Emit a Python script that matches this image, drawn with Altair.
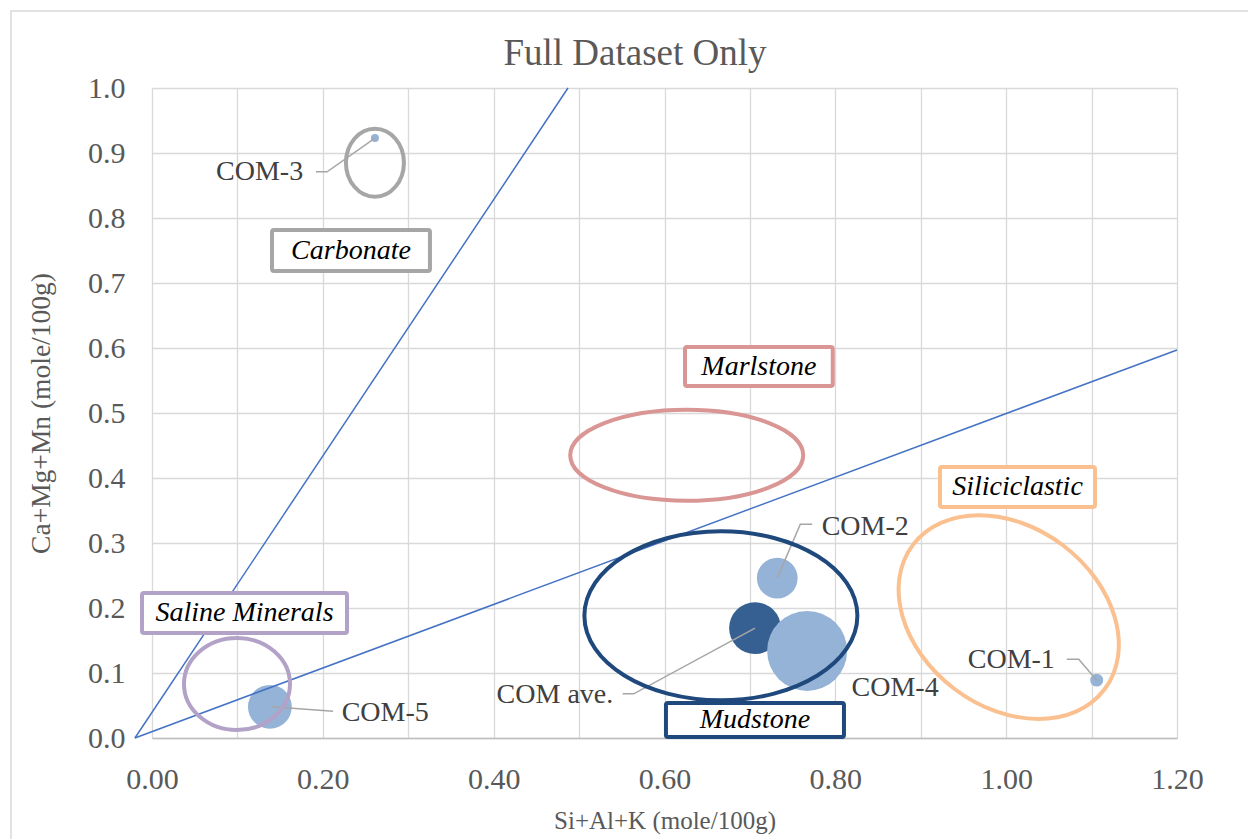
import altair as alt
import pandas as pd

# ---- bubble series (mole/100g) ----
sample = ["COM ave.", "COM-1", "COM-2", "COM-3", "COM-4", "COM-5"]
si_al_k = [0.706, 1.106, 0.732, 0.261, 0.767, 0.138]
ca_mg_mn = [0.169, 0.089, 0.246, 0.923, 0.134, 0.048]
bubble_value = [42, 2.6, 26, 1, 100, 30]
series = ["Average", "Sample", "Sample", "Sample", "Sample", "Sample"]

# ---- data labels ----
label_x = [0.540, 0.955, 0.784, 0.177, 0.819, 0.222]
label_y = [0.066, 0.120, 0.325, 0.871, 0.077, 0.038]
label_side = ["right", "left", "left", "right", "left", "left"]

# ---- leader lines (label -> bubble) ----
leader_name = ["COM ave."] * 3 + ["COM-1"] * 3 + ["COM-2"] * 3 + ["COM-3"] * 3 + ["COM-5"] * 2
leader_x = [0.551, 0.564, 0.706, 1.071, 1.085, 1.106, 0.773, 0.759, 0.732,
            0.192, 0.205, 0.261, 0.212, 0.140]
leader_y = [0.068, 0.068, 0.169, 0.121, 0.121, 0.089, 0.329, 0.329, 0.246,
            0.871, 0.871, 0.923, 0.041, 0.048]

# ---- classification boundary lines ----
line_id = ["upper", "upper", "lower", "lower"]
line_x = [-0.02, 0.487, -0.02, 1.2]
line_y = [0.0, 1.0, 0.0, 0.597]

# ---- lithology regions: outline ellipse + labelled box ----
region = ["Carbonate", "Marlstone", "Siliciclastic", "Saline Minerals", "Mudstone"]
region_color = ["#a6a6a6", "#d99694", "#fac090", "#b3a2c7", "#1f497d"]
ellipse_x = [0.261, 0.626, 1.003, 0.0995, 0.666]
ellipse_y = [0.885, 0.435, 0.186, 0.083, 0.188]
ellipse_rx = [29, 116.5, 120, 53, 136.5]
ellipse_ry = [34, 45.5, 90, 46, 84.5]
ellipse_tilt = [0, 0, 37, 0, 0]
box_x1 = [0.1405, 0.624, 0.9225, -0.0117, 0.6017]
box_x2 = [0.3254, 0.797, 1.104, 0.2283, 0.8101]
box_y1 = [0.7815, 0.6015, 0.417, 0.2231, 0.0538]
box_y2 = [0.7185, 0.5415, 0.3554, 0.1615, 0.0015]

# ---- axis ticks ----
x_ticks = [0.0, 0.1, 0.2, 0.3, 0.4, 0.5, 0.6, 0.7, 0.8, 0.9, 1.0, 1.1, 1.2]
y_ticks = [0.0, 0.1, 0.2, 0.3, 0.4, 0.5, 0.6, 0.7, 0.8, 0.9, 1.0]

CHART_TITLE = "Full Dataset Only"

FONT = "'Liberation Serif', 'Times New Roman', Times, serif"
GREY_TEXT = "#595959"

x_scale = alt.Scale(domain=[0, 1.2], nice=False, zero=False)
y_scale = alt.Scale(domain=[0, 1.0], nice=False, zero=False)

x_axis = alt.Axis(
    values=x_ticks,
    labelExpr="(round(datum.value * 10) % 2 == 0) ? format(datum.value, '.2f') : ''",
    grid=True, gridColor="#d9d9d9", gridWidth=1.3,
    ticks=False, domainColor="#bfbfbf", domainWidth=1.5,
    labelFont=FONT, labelFontSize=30, labelColor=GREY_TEXT, labelPadding=26,
    labelFlush=False, labelOverlap=False,
    title="Si+Al+K (mole/100g)", titleFont=FONT, titleFontSize=25,
    titleFontWeight="normal", titleColor=GREY_TEXT,
    titleY=90, titleBaseline="alphabetic",
)
y_axis = alt.Axis(
    values=y_ticks, format=".1f",
    grid=True, gridColor="#d9d9d9", gridWidth=1.3,
    ticks=False, domain=False,
    labelFont=FONT, labelFontSize=30, labelColor=GREY_TEXT, labelPadding=27,
    labelFlush=False, labelOverlap=False,
    title="Ca+Mg+Mn (mole/100g)", titleFont=FONT, titleFontSize=27.5,
    titleFontWeight="normal", titleColor=GREY_TEXT,
    titleX=-103, titleY=325, titleAlign="center", titleBaseline="alphabetic", titleAngle=270,
)


def X(field):
    return alt.X(f"{field}:Q", scale=x_scale, axis=x_axis)


def Y(field):
    return alt.Y(f"{field}:Q", scale=y_scale, axis=y_axis)


samples = pd.DataFrame({
    "sample": sample, "x": si_al_k, "y": ca_mg_mn, "value": bubble_value,
    "series": series, "lx": label_x, "ly": label_y, "side": label_side,
})
leaders = pd.DataFrame({"sample": leader_name, "x": leader_x, "y": leader_y,
                        "seq": list(range(len(leader_x)))})
bounds = pd.DataFrame({"line": line_id, "x": line_x, "y": line_y})
regions = pd.DataFrame({
    "region": region, "color": region_color,
    "cx": ellipse_x, "cy": ellipse_y,
    "x1": box_x1, "x2": box_x2, "y1": box_y1, "y2": box_y2,
})
regions["tx"] = (regions["x1"] + regions["x2"]) / 2
regions["ty"] = (regions["y1"] + regions["y2"]) / 2

single = pd.DataFrame({"title": [CHART_TITLE]})

# Outer chart-area frame
frame = alt.Chart(single).mark_rect(
    fill="white", fillOpacity=0, stroke="#d9d9d9", strokeWidth=1.5
).encode(
    x=alt.value(-141), x2=alt.value(1130), y=alt.value(-77), y2=alt.value(790)
)

# Chart heading, centred over the whole chart area
heading = alt.Chart(single).mark_text(
    font=FONT, fontSize=37, color=GREY_TEXT, align="center", baseline="alphabetic"
).encode(x=alt.value(483), y=alt.value(-23), text="title:N")

# draw the average first so the large COM-4 bubble sits above it
bubbles = alt.Chart(samples).mark_circle(opacity=1).encode(
    x=X("x"), y=Y("y"),
    size=alt.Size("value:Q", scale=alt.Scale(domain=[0, 100], range=[0, 6400]), legend=None),
    color=alt.Color("series:N", scale=alt.Scale(domain=["Average", "Sample"],
                                                range=["#376092", "#95b3d7"]), legend=None),
)

leader_lines = alt.Chart(leaders).mark_line(color="#a6a6a6", strokeWidth=1.5).encode(
    x=X("x"), y=Y("y"), detail="sample:N", order="seq:Q"
)

labels_left = alt.Chart(samples).transform_filter(alt.datum.side == "left").mark_text(
    align="left", baseline="middle", font=FONT, fontSize=28, color="#404040"
).encode(x=X("lx"), y=Y("ly"), text="sample:N")
labels_right = alt.Chart(samples).transform_filter(alt.datum.side == "right").mark_text(
    align="right", baseline="middle", font=FONT, fontSize=28, color="#404040"
).encode(x=X("lx"), y=Y("ly"), text="sample:N")

boundary = alt.Chart(bounds).mark_line(color="#4472c4", strokeWidth=1.5).encode(
    x=X("x"), y=Y("y"), detail="line:N"
)

ellipses = []
for i in range(len(region)):
    k = ellipse_ry[i] / ellipse_rx[i]
    path = f"M -1 0 A 1 {k:.4f} 0 1 1 1 0 A 1 {k:.4f} 0 1 1 -1 0 Z"
    ellipses.append(
        alt.Chart(regions.iloc[[i]]).mark_point(
            shape=path, size=(2 * ellipse_rx[i]) ** 2, angle=ellipse_tilt[i],
            stroke=region_color[i], strokeWidth=4, opacity=1, filled=False,
        ).encode(x=X("cx"), y=Y("cy"))
    )

boxes = alt.Chart(regions).mark_rect(fill="white", strokeWidth=4, cornerRadius=2).encode(
    x=X("x1"), x2="x2", y=Y("y1"), y2="y2",
    stroke=alt.Stroke("color:N", scale=None),
)
box_text = alt.Chart(regions).mark_text(
    font=FONT, fontSize=28, fontStyle="italic", color="black", baseline="middle", align="center"
).encode(x=X("tx"), y=Y("ty"), text="region:N")

chart = alt.layer(
    frame, heading, bubbles, leader_lines, labels_left, labels_right, boundary,
    *ellipses, boxes, box_text
).properties(
    width=1025, height=650,
    autosize=alt.AutoSizeParams(type="none"),
    padding={"left": 152, "top": 88, "right": 71, "bottom": 101},
).configure_view(strokeWidth=0).configure(background="white")

chart.save("out.html", embed_options={"renderer": "svg", "actions": False})
